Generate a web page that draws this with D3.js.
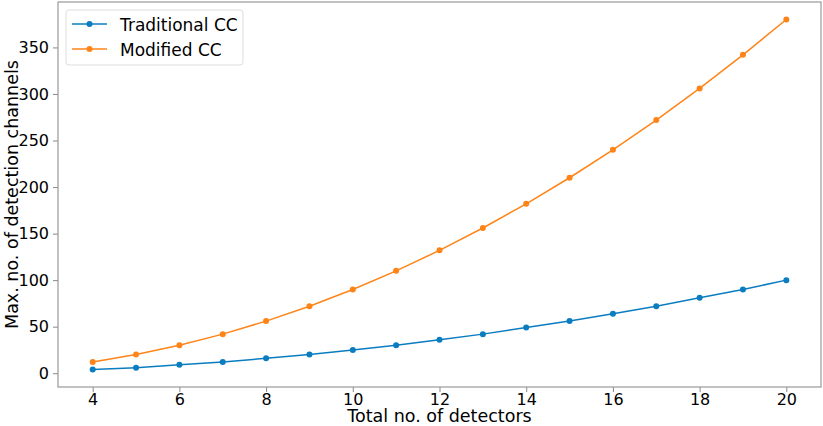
<!DOCTYPE html>
<html>
<head>
<meta charset="utf-8">
<script src="https://d3js.org/d3.v7.min.js"></script>
<style>
  body { margin: 0; background: #fff; }
  text { font-family: "DejaVu Sans", sans-serif; fill: #000; }
</style>
</head>
<body>
<script>
var detectors = [4, 5, 6, 7, 8, 9, 10, 11, 12, 13, 14, 15, 16, 17, 18, 19, 20];
var traditional = [4, 6, 9, 12, 16, 20, 25, 30, 36, 42, 49, 56, 64, 72, 81, 90, 100];
var modified = [12, 20, 30, 42, 56, 72, 90, 110, 132, 156, 182, 210, 240, 272, 306, 342, 380];
var xTicks = [4, 6, 8, 10, 12, 14, 16, 18, 20];
var yTicks = [0, 50, 100, 150, 200, 250, 300, 350];
var seriesNames = ["Traditional CC", "Modified CC"];
var colors = ["#0a7cc0", "#ff8418"];

var width = 823, height = 426;
var margin = {left: 58, right: 2, top: 2, bottom: 39};

var svg = d3.select("body").append("svg")
  .attr("width", width)
  .attr("height", height);

var x = d3.scaleLinear().domain([3.2, 20.8]).range([margin.left, width - margin.right]);
var y = d3.scaleLinear().domain([-14.8, 398.8]).range([height - margin.bottom, margin.top]);

// axes
var xAxis = svg.append("g")
  .attr("transform", "translate(0," + (height - margin.bottom) + ")")
  .call(d3.axisBottom(x).tickValues(xTicks).tickSize(5).tickPadding(2));
var yAxis = svg.append("g")
  .attr("transform", "translate(" + margin.left + ",0)")
  .call(d3.axisLeft(y).tickValues(yTicks).tickSize(5).tickPadding(4));

[xAxis, yAxis].forEach(function(a) {
  a.select(".domain").remove();
  a.selectAll(".tick line").attr("stroke", "#888");
  a.selectAll(".tick text").style("font-size", "16px").style("font-family", "DejaVu Sans");
});

// frame
svg.append("rect")
  .attr("x", margin.left).attr("y", margin.top)
  .attr("width", width - margin.left - margin.right)
  .attr("height", height - margin.top - margin.bottom)
  .attr("fill", "none").attr("stroke", "#999").attr("stroke-width", 1.2);

// axis labels
svg.append("text")
  .attr("x", (margin.left + width - margin.right) / 2)
  .attr("y", 421.5)
  .attr("text-anchor", "middle")
  .style("font-size", "17.5px")
  .text("Total no. of detectors");

svg.append("text")
  .attr("transform", "translate(18," + ((margin.top + height - margin.bottom) / 2) + ") rotate(-90)")
  .attr("text-anchor", "middle")
  .style("font-size", "17.5px")
  .text("Max. no. of detection channels");

// series
var line = d3.line().x(function(d) { return x(d[0]); }).y(function(d) { return y(d[1]); });
[traditional, modified].forEach(function(vals, i) {
  var pts = detectors.map(function(n, j) { return [n, vals[j]]; });
  svg.append("path")
    .datum(pts)
    .attr("d", line)
    .attr("fill", "none")
    .attr("stroke", colors[i])
    .attr("stroke-width", 1.5);
  svg.selectAll(".pt" + i)
    .data(pts)
    .enter().append("circle")
    .attr("cx", function(d) { return x(d[0]); })
    .attr("cy", function(d) { return y(d[1]); })
    .attr("r", 3)
    .attr("fill", colors[i]);
});

// legend
var legend = svg.append("g");
legend.append("rect")
  .attr("x", 66).attr("y", 10).attr("width", 177).attr("height", 55)
  .attr("rx", 3)
  .attr("fill", "#fff").attr("stroke", "#ddd");
seriesNames.forEach(function(name, i) {
  var ly = 24 + i * 25;
  legend.append("line")
    .attr("x1", 72).attr("x2", 107).attr("y1", ly).attr("y2", ly)
    .attr("stroke", colors[i]).attr("stroke-width", 1.5);
  legend.append("circle")
    .attr("cx", 89.5).attr("cy", ly).attr("r", 3).attr("fill", colors[i]);
  legend.append("text")
    .attr("x", 120).attr("y", ly + 6.5)
    .style("font-size", "17px")
    .text(name);
});
</script>
</body>
</html>
